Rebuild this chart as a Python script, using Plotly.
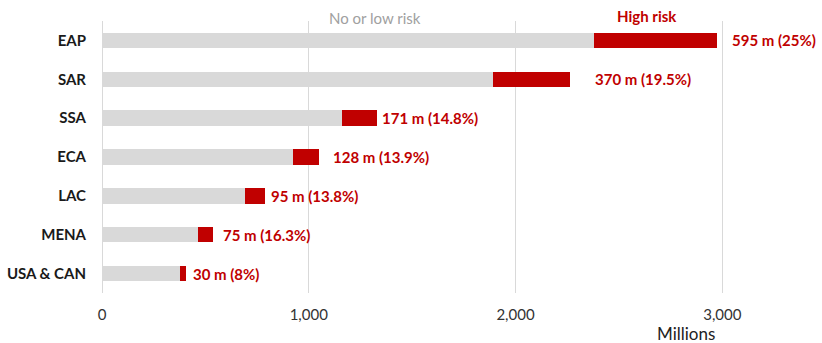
import plotly.graph_objects as go

regions = ["EAP", "SAR", "SSA", "ECA", "LAC", "MENA", "USA & CAN"]
low_risk = [2380, 1893, 1160, 923, 694, 463, 376]
high_risk = [595, 370, 171, 128, 95, 75, 30]
high_labels = ["595 m (25%)", "370 m (19.5%)", "171 m (14.8%)", "128 m (13.9%)",
               "95 m (13.8%)", "75 m (16.3%)", "30 m (8%)"]
tick_vals = [0, 1000, 2000, 3000]
tick_text = ["0", "1,000", "2,000", "3,000"]

# label gaps (px) from the bar end, as placed in the original
label_gap_px = [13, 23, 3, 12, 4, 8, 5]

GRAY = "#D9D9D9"
RED = "#C00000"
FONT = "Lato"

fig = go.Figure()
fig.add_trace(go.Bar(y=regions, x=low_risk, orientation="h", marker_color=GRAY,
                     marker_line_width=0, name="No or low risk", hoverinfo="x+y"))
fig.add_trace(go.Bar(y=regions, x=high_risk, orientation="h", marker_color=RED,
                     marker_line_width=0, name="High risk", hoverinfo="x+y"))

for r, lo, hi, lab, gap in zip(regions, low_risk, high_risk, high_labels, label_gap_px):
    fig.add_annotation(x=lo + hi, y=r, xref="x", yref="y", text=lab, showarrow=False,
                       xanchor="left", xshift=gap,
                       font=dict(family=FONT, size=15, color=RED, weight="bold"))

fig.add_annotation(x=375, y=343 - 18, xref="paper", yref="paper", text="No or low risk",
                   showarrow=False, font=dict(family=FONT, size=15, color="#A0A0A0"))
fig.add_annotation(x=647, y=343 - 16, xref="paper", yref="paper", text="High risk",
                   showarrow=False, font=dict(family=FONT, size=15, color=RED, weight="bold"))
fig.add_annotation(x=686, y=343 - 333, xref="paper", yref="paper", text="Millions",
                   showarrow=False, font=dict(family=FONT, size=17, color="#222222"))

W, H = 822, 343
ml, mr, mt, mb = 102, 17, 21, 50
fig.update_layout(
    width=W, height=H,
    margin=dict(l=ml, r=mr, t=mt, b=mb, autoexpand=False),
    barmode="stack", bargap=0.6,
    showlegend=False,
    plot_bgcolor="white", paper_bgcolor="white",
    font=dict(family=FONT),
    xaxis=dict(range=[0, 3400], tickvals=tick_vals, ticktext=tick_text,
               showgrid=True, gridcolor=GRAY, gridwidth=1,
               zeroline=True, zerolinecolor=GRAY, zerolinewidth=1,
               showline=False, ticks="outside", ticklen=8, tickcolor="rgba(0,0,0,0)",
               tickfont=dict(family=FONT, size=15, color="#333333"),
               automargin=False, fixedrange=True),
    yaxis=dict(autorange="reversed", showgrid=False, zeroline=False, showline=False,
               ticks="outside", ticklen=12, tickcolor="rgba(0,0,0,0)",
               tickfont=dict(family=FONT, size=15, color="#1A1A1A", weight="bold"),
               automargin=False, fixedrange=True),
)

# use paper pixel coordinates for the free text annotations
for a in fig.layout.annotations:
    if a.xref == "paper":
        a.x = (a.x - ml) / (W - ml - mr)
        a.y = (a.y - mb) / (H - mt - mb)
        a.xanchor = "center"
        a.yanchor = "middle"

fig.write_html("out.html")
